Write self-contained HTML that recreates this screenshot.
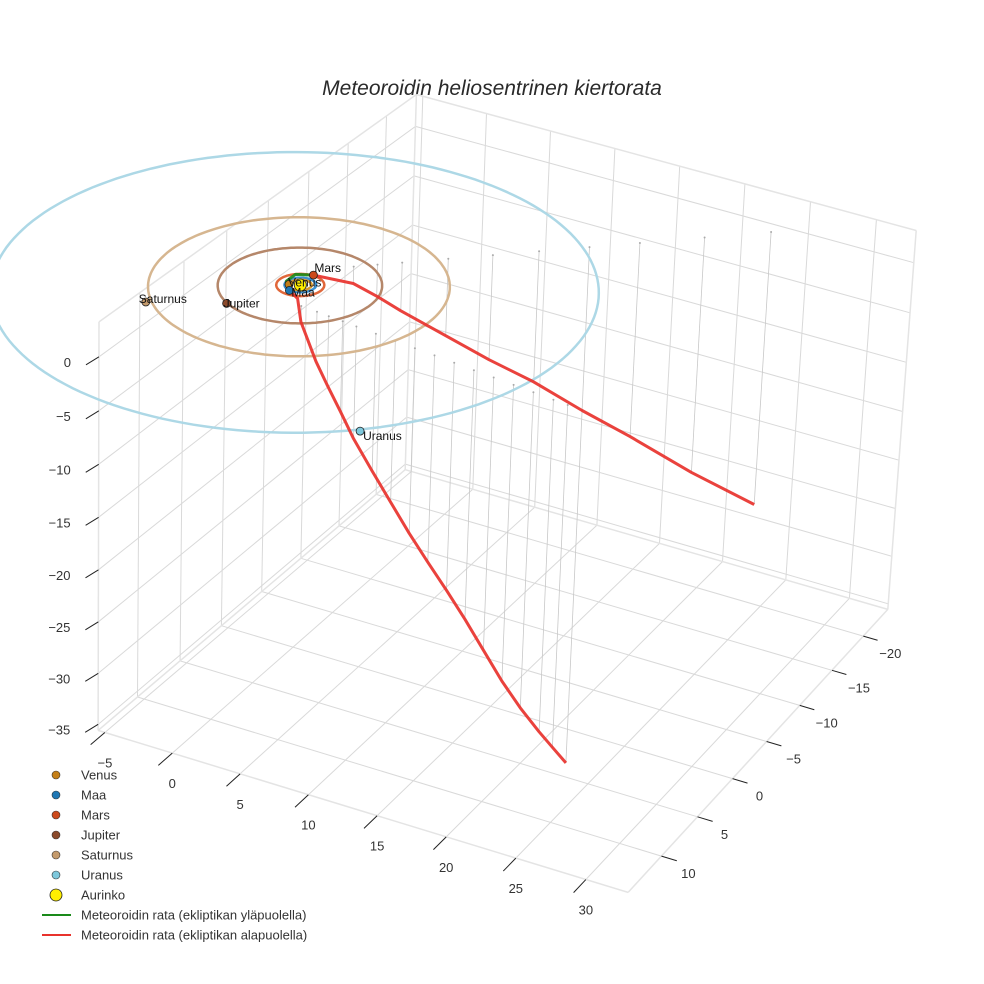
<!DOCTYPE html>
<html><head><meta charset="utf-8">
<style>
html,body{margin:0;padding:0;background:#fff;}
svg{display:block;font-family:"Liberation Sans",sans-serif;}
</style></head>
<body>
<svg id="chart" width="984" height="984" viewBox="0 0 984 984" xmlns="http://www.w3.org/2000/svg">
<rect width="984" height="984" fill="#fff"/>
<text x="492" y="95" text-anchor="middle" font-size="21" font-style="italic" fill="#2a2a2a">Meteoroidin heliosentrinen kiertorata</text>
<g id="grid"></g>
<g id="drops"></g>
<g id="orbits"></g>
<g id="traj"></g>
<g id="planets"></g>
<g id="axes"></g>
<g id="legend"></g>
</svg>
<script>
// ---- data ----
const xTicks = [-5, 0, 5, 10, 15, 20, 25, 30];
const yTicks = [-20, -15, -10, -5, 0, 5, 10];
const zTicks = [0, -5, -10, -15, -20, -25, -30, -35];
const trajX = [23.44,22.34,21.25,19.71,18.19,16.65,15.12,13.59,12.05,10.52,8.98,7.46,5.92,4.83,3.73,2.79,1.54,0.6,-0.2,-0.8,-0.8,0,1.58,2.74,3.95,6.22,8.44,10.76,13.31,15.89,19.22,22.7];
const trajY = [5.21,5.07,4.93,4.73,4.54,4.34,4.15,3.95,3.75,3.56,3.36,3.17,2.97,2.83,2.69,2.57,2.41,1.3,1.0,0.4,-0.7,-1.6,-3.96,-5.0,-6.08,-8.12,-10.1,-12.18,-14.47,-16.76,-19.78,-22.9];
const trajZ = [-34.0,-33.0,-32.0,-30.4,-28.5,-26.2,-23.9,-21.8,-19.8,-17.7,-15.4,-13.1,-10.7,-8.6,-6.55,-4.7,-1.5,-0.3,0,0.3,0.3,0,-1.63,-3.05,-4.67,-7.5,-10.25,-12.89,-16.24,-19.38,-23.74,-27.8];
const planetNames = ["Venus","Maa","Mars","Jupiter","Saturnus","Uranus"];
const planetX = [-0.65,-0.2,0,-2.62,-7.0,13.0];
const planetY = [0.31,1.0,-1.6,4.55,7.0,14.4];
const orbitRadius = [0.72,1.0,1.52,5.2,9.54,19.2];
const planetColors = ["#c47f17","#1f77b4","#cc4a1c","#8b4a2b","#c49a6c","#7ec8dc"];
const orbitColors = ["#d89a30","#3a8fd0","#e0673a","#b5876a","#d6b690","#add8e6"];

// ---- projection (DLT fit to box calibration) ----
const XMIN=-5.5,XMAX=33,YMIN=-24,YMAX=14.5,ZMIN=-35.6,ZMAX=3.2;
const calib=[[XMIN,YMAX,ZMIN,99,726,1],[XMIN,YMAX,ZMAX,81,333,1],[XMIN,YMIN,ZMIN,403,470,1],[XMIN,YMIN,ZMAX,403,100,1],
[XMAX,YMIN,ZMIN,895,612,1],[XMAX,YMIN,ZMAX,912,228,1],[XMAX,YMAX,ZMIN,620,893,1],[0,0,0,303,284,25],
[XMIN,YMAX,0,84,365,1],[XMIN,YMIN,0,403,127,1],[5,YMAX,ZMIN,245,773,1],[XMAX,-20,ZMIN,866,638,1],[XMAX,10,ZMIN,652,857,1]];
function solveDLT(){
  const rows=[],rhs=[],wts=[];
  calib.forEach(c=>{const [X,Y,Z,u,v,wt]=c;
    rows.push([X,Y,Z,1,0,0,0,0,-u*X,-u*Y,-u*Z]);rhs.push(u);wts.push(wt);
    rows.push([0,0,0,0,X,Y,Z,1,-v*X,-v*Y,-v*Z]);rhs.push(v);wts.push(wt);});
  const n=11,A=[],b=[];
  for(let i=0;i<n;i++){A.push(new Array(n).fill(0));b.push(0);
    for(let k=0;k<rows.length;k++){b[i]+=wts[k]*rows[k][i]*rhs[k];for(let j=0;j<n;j++)A[i][j]+=wts[k]*rows[k][i]*rows[k][j];}}
  for(let i=0;i<n;i++){let p=i;for(let r=i+1;r<n;r++)if(Math.abs(A[r][i])>Math.abs(A[p][i]))p=r;
    [A[i],A[p]]=[A[p],A[i]];[b[i],b[p]]=[b[p],b[i]];
    for(let r=0;r<n;r++){if(r===i)continue;const f=A[r][i]/A[i][i];for(let j=i;j<n;j++)A[r][j]-=f*A[i][j];b[r]-=f*b[i];}}
  return b.map((v,i)=>v/A[i][i]);
}
const P=solveDLT();
function proj(x,y,z){const w=P[8]*x+P[9]*y+P[10]*z+1;
  return [(P[0]*x+P[1]*y+P[2]*z+P[3])/w,(P[4]*x+P[5]*y+P[6]*z+P[7])/w];}

const NS="http://www.w3.org/2000/svg";
function mk(tag,attrs,parent){const e=document.createElementNS(NS,tag);for(const k in attrs)e.setAttribute(k,attrs[k]);parent.appendChild(e);return e;}
function line3(a,b,stroke,w,parent){const p=proj(...a),q=proj(...b);
  return mk('line',{x1:p[0].toFixed(1),y1:p[1].toFixed(1),x2:q[0].toFixed(1),y2:q[1].toFixed(1),stroke:stroke,'stroke-width':w},parent);}

// ---- grid ----
const g=document.getElementById('grid');
const gc="#d9d9d9";
yTicks.forEach(y=>{const e=line3([XMIN,y,ZMIN],[XMIN,y,ZMAX],gc,1,g);

});
zTicks.forEach(z=>{const e=line3([XMIN,YMIN,z],[XMIN,YMAX,z],gc,1,g);


const f=line3([XMIN,YMIN,z],[XMAX,YMIN,z],gc,1,g);

});
xTicks.forEach(x=>{const e=line3([x,YMIN,ZMIN],[x,YMIN,ZMAX],gc,1,g);


const f=line3([x,YMIN,ZMIN],[x,YMAX,ZMIN],gc,1,g);

});
yTicks.forEach(y=>{const e=line3([XMIN,y,ZMIN],[XMAX,y,ZMIN],gc,1,g);

});
[[[XMIN,YMAX,ZMIN],[XMIN,YMAX,ZMAX]],[[XMIN,YMIN,ZMIN],[XMIN,YMIN,ZMAX]],[[XMAX,YMIN,ZMIN],[XMAX,YMIN,ZMAX]],
 [[XMIN,YMAX,ZMAX],[XMIN,YMIN,ZMAX]],[[XMIN,YMIN,ZMAX],[XMAX,YMIN,ZMAX]],
 [[XMIN,YMAX,ZMIN],[XMAX,YMAX,ZMIN]],[[XMAX,YMAX,ZMIN],[XMAX,YMIN,ZMIN]],[[XMIN,YMAX,ZMIN],[XMIN,YMIN,ZMIN]],[[XMIN,YMIN,ZMIN],[XMAX,YMIN,ZMIN]]].forEach(s=>{
 const e=line3(s[0],s[1],"#e4e4e4",1.5,g);
 
 });

// ---- drop lines ----
const dg=document.getElementById('drops');
for(let i=0;i<trajX.length;i++){if(trajZ[i]>-1)continue;
  const e=line3([trajX[i],trajY[i],0],[trajX[i],trajY[i],trajZ[i]],"#c8c8c8",0.8,dg);
  
  
  const p=proj(trajX[i],trajY[i],0);
  const d=mk('circle',{cx:p[0].toFixed(1),cy:p[1].toFixed(1),r:1,fill:"#aaa"},dg);
  
  }

// ---- orbits ----
const og=document.getElementById('orbits');
for(let k=orbitRadius.length-1;k>=0;k--){let pts=[];
  for(let a=0;a<=180;a++){const t=a/180*2*Math.PI;const p=proj(orbitRadius[k]*Math.cos(t),orbitRadius[k]*Math.sin(t),0);pts.push(p[0].toFixed(1)+","+p[1].toFixed(1));}
  const e=mk('polyline',{points:pts.join(" "),fill:"none",stroke:orbitColors[k],'stroke-width':2.5},og);
  
  }

// ---- trajectory ----
const tg=document.getElementById('traj');
let cur=null,curCol=null;
for(let i=0;i<trajX.length-1;i++){
  const col=(trajZ[i]>=0&&trajZ[i+1]>=0)?"#1a8a1a":"#e8322c";
  const p=proj(trajX[i],trajY[i],trajZ[i]),q=proj(trajX[i+1],trajY[i+1],trajZ[i+1]);
  if(col!==curCol){cur=[p[0].toFixed(1)+","+p[1].toFixed(1)];curCol=col;
    const e=mk('polyline',{fill:"none",stroke:col,'stroke-width':3,'stroke-linejoin':'round',opacity:0.92},tg);
    
    
    cur.el=e;}
  cur.push(q[0].toFixed(1)+","+q[1].toFixed(1));cur.el.setAttribute('points',cur.join(" "));}

// ---- planets ----
const pg=document.getElementById('planets');
const sp=proj(0,0,0);
const sun=mk('circle',{cx:sp[0].toFixed(1),cy:sp[1].toFixed(1),r:6,fill:"#ffee00",stroke:"#222",'stroke-width':0.8},pg);


const labOff=[[-1,2],[2,6],[1,-3],[-3,4],[-7,1],[3,9]];
for(let k=0;k<planetNames.length;k++){const p=proj(planetX[k],planetY[k],0);
  const c=mk('circle',{cx:p[0].toFixed(1),cy:p[1].toFixed(1),r:4,fill:planetColors[k],stroke:"#222",'stroke-width':0.8},pg);
  
  
  const t=mk('text',{x:(p[0]+labOff[k][0]).toFixed(1),y:(p[1]+labOff[k][1]).toFixed(1),'font-size':12,fill:"#111"},pg);
  t.textContent=planetNames[k];
  
  }

// ---- axes ticks & labels ----
const ag=document.getElementById('axes');
function fmt(v){return v<0?"\u2212"+Math.abs(v):String(v);}
xTicks.forEach(x=>{const p=proj(x,YMAX,ZMIN),q=proj(x,YMAX+1.6,ZMIN);
  const e=mk('line',{x1:p[0],y1:p[1],x2:q[0],y2:q[1],stroke:"#222",'stroke-width':1},ag);
  
  
  const t=mk('text',{x:(p[0]).toFixed(1),y:(p[1]+35).toFixed(1),'text-anchor':'middle','font-size':13,fill:"#333"},ag);
  t.textContent=fmt(x);
  
  });
yTicks.forEach(y=>{const p=proj(XMAX,y,ZMIN),q=proj(XMAX+1.1,y,ZMIN);
  const e=mk('line',{x1:p[0],y1:p[1],x2:q[0],y2:q[1],stroke:"#222",'stroke-width':1},ag);
  
  
  const t=mk('text',{x:(p[0]+27).toFixed(1),y:(p[1]+22).toFixed(1),'text-anchor':'middle','font-size':13,fill:"#333"},ag);
  t.textContent=fmt(y);
  
  });
zTicks.forEach(z=>{const p=proj(XMIN,YMAX,z);
  const e=mk('line',{x1:p[0],y1:p[1],x2:p[0]-13,y2:p[1]+8,stroke:"#222",'stroke-width':1},ag);
  
  
  const t=mk('text',{x:(p[0]-28).toFixed(1),y:(p[1]+10).toFixed(1),'text-anchor':'end','font-size':13,fill:"#333"},ag);
  t.textContent=fmt(z);
  
  });

// ---- legend ----
const lg=document.getElementById('legend');
const legendLabels=["Venus","Maa","Mars","Jupiter","Saturnus","Uranus","Aurinko","Meteoroidin rata (ekliptikan yläpuolella)","Meteoroidin rata (ekliptikan alapuolella)"];
legendLabels.forEach((lab,i)=>{const y=775+i*20;
  const grp=mk('g',{},lg);
  
  
  if(i<6){mk('circle',{cx:56,cy:y,r:4,fill:planetColors[i],stroke:"#333",'stroke-width':0.6},grp);}
  else if(i===6){mk('circle',{cx:56,cy:y,r:6,fill:"#ffee00",stroke:"#222",'stroke-width':0.8},grp);}
  else{mk('line',{x1:42,y1:y,x2:71,y2:y,stroke:i===7?"#1a8a1a":"#e8322c",'stroke-width':2},grp);}
  const t=mk('text',{x:81,y:y+4.5,'font-size':13,fill:"#333"},grp);t.textContent=lab;});
</script>
</body></html>
